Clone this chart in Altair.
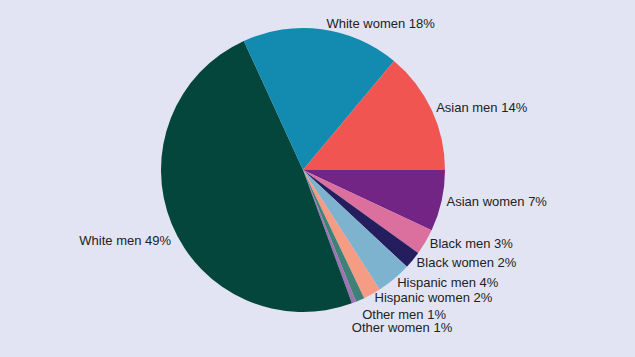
import altair as alt
import pandas as pd

groups = ["Asian women", "Black men", "Black women", "Hispanic men", "Hispanic women",
          "Other men", "Other women", "White men", "White women", "Asian men"]
shares = [7, 3, 2, 4, 2, 1, 0.5, 49, 18, 14]
labels = ["Asian women 7%", "Black men 3%", "Black women 2%", "Hispanic men 4%",
          "Hispanic women 2%", "Other men 1%", "Other women 1%", "White men 49%",
          "White women 18%", "Asian men 14%"]
colors = ["#722585", "#db6f9e", "#241e5e", "#7eb3d0", "#f69c84",
          "#3f8077", "#9e72b4", "#04463b", "#138bb0", "#f05551"]

df = pd.DataFrame({"group": groups, "share": shares, "label": labels,
                   "idx": list(range(len(groups)))})

CX, CY, R = 303, 170, 142
BG = "#e2e4f3"
FONT = "Liberation Sans"

theta = alt.Theta("share:Q", stack=True,
                  scale=alt.Scale(range=[1.5708, 1.5708 + 6.28319]))
order = alt.Order("idx:O")

base = alt.Chart(df).encode(theta=theta, order=order,
                            x=alt.value(CX), y=alt.value(CY))

pie = base.mark_arc(radius=R).encode(
    color=alt.Color("group:N", scale=alt.Scale(domain=groups, range=colors), legend=None)
)

left_groups = ["White men"]
nudged = {"Other men": (0, 10), "Other women": (-4, 21), "White women": (4, 0)}

def label_layer(pred, align, dx=0, dy=0):
    return base.mark_text(radius=R + 5, align=align, baseline="middle", dx=dx, dy=dy,
                          font=FONT, fontSize=13, color="#222222").encode(
        text=alt.condition(pred, "label:N", alt.value(""))
    )

normal = [g for g in groups if g not in left_groups and g not in nudged]
layers = [pie,
          label_layer(alt.FieldOneOfPredicate(field="group", oneOf=normal), "left"),
          label_layer(alt.FieldOneOfPredicate(field="group", oneOf=left_groups), "right",
                      dx=4, dy=15)]
for g, (ddx, ddy) in nudged.items():
    layers.append(label_layer(alt.FieldEqualPredicate(field="group", equal=g), "left",
                              dx=ddx, dy=ddy))

chart = alt.layer(*layers).properties(
    width=635, height=357, background=BG,
    autosize=alt.AutoSizeParams(type="none"), padding=0
).configure_view(stroke=None)

chart.save("out.html", embed_options={"renderer": "svg", "actions": False})
